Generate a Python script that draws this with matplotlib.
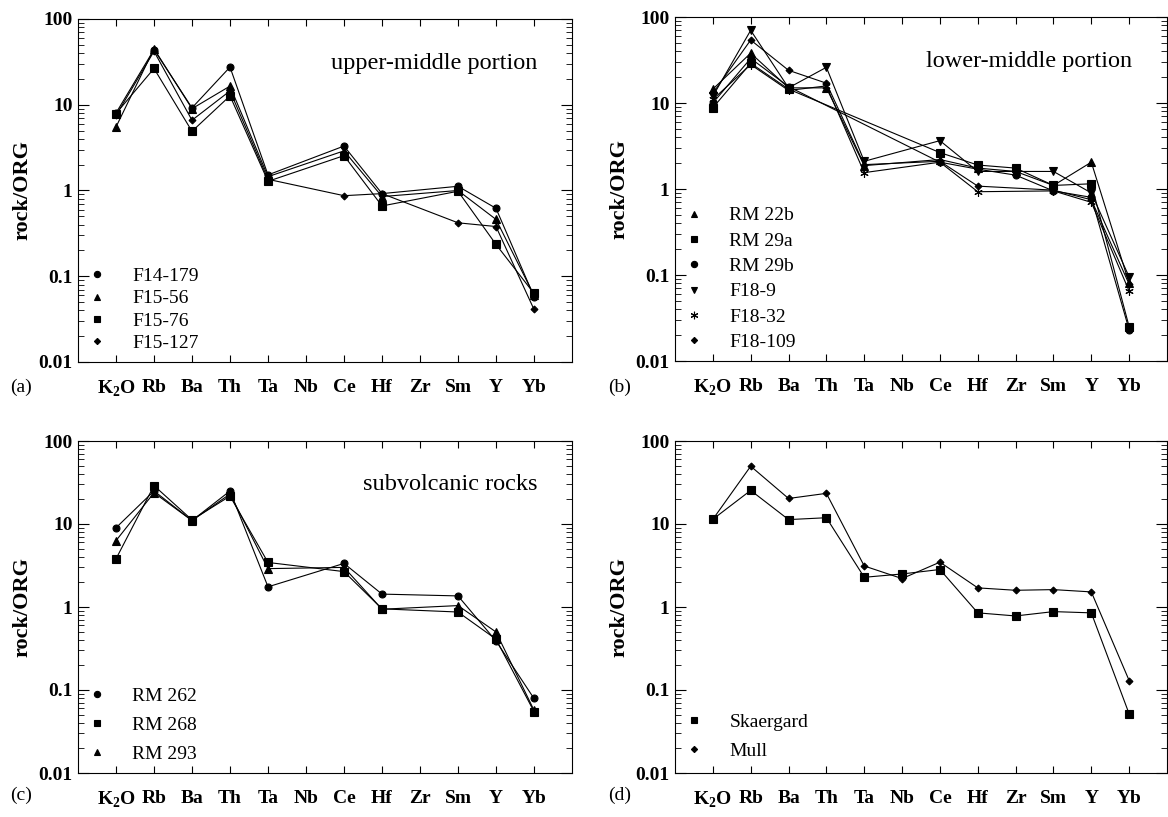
#=========================================================================================
# Diagramas rock/ORG (4 paneles)
#=========================================================================================
import matplotlib
matplotlib.use('Agg')
import matplotlib.pyplot as plt
from matplotlib.lines import Line2D
from matplotlib.ticker import LogLocator, FixedLocator, NullFormatter
import numpy as np

plt.rcParams['font.family'] = ['Liberation Serif', 'DejaVu Serif']
plt.rcParams['mathtext.fontset'] = 'custom'
plt.rcParams['mathtext.rm'] = 'Liberation Serif:bold'
plt.rcParams['mathtext.bf'] = 'Liberation Serif:bold'

nan = np.nan

#=========================================================================================
# Datos
#=========================================================================================
elementos = [r'K$_\mathbf{2}$O', 'Rb', 'Ba', 'Th', 'Ta', 'Nb', 'Ce', 'Hf', 'Zr', 'Sm', 'Y', 'Yb']

# (a) upper-middle portion
f14_179 = [8.0, 44, 9.2, 27.5, 1.52, nan, 3.3, 0.92, nan, 1.12, 0.62, 0.058]
f15_56 = [5.5, 45, 9.0, 16.5, 1.45, nan, 2.9, 0.85, nan, 1.0, 0.46, 0.060]
f15_76 = [7.9, 26.5, 4.9, 12.7, 1.28, nan, 2.55, 0.66, nan, 0.98, 0.235, 0.063]
f15_127 = [7.5, 42, 6.6, 14.5, 1.35, nan, 0.87, 0.92, nan, 0.42, 0.38, 0.041]

# (b) lower-middle portion
rm_22b = [14.5, 38, 15, 15, 1.87, nan, 2.2, 1.75, 1.6, 1.1, 2.05, 0.08]
rm_29a = [8.8, 29, 14.5, nan, nan, nan, 2.65, 1.9, 1.75, 1.1, 1.15, 0.025]
rm_29b = [10, 33, 15.5, nan, nan, nan, 2.05, 1.7, 1.45, 0.95, 0.8, 0.023]
f18_9 = [12, 70, 15, 26, 2.1, nan, 3.65, 1.6, nan, 1.6, 0.9, 0.095]
f18_32 = [11, 28, 14, 15.8, 1.55, nan, 2.05, 0.93, nan, 0.95, 0.7, 0.065]
f18_109 = [13, 54, 24, 17, 1.92, nan, 2.1, 1.08, nan, 0.97, 0.75, 0.078]

# (c) subvolcanic rocks
rm_262 = [9.0, 25, 11, 25, 1.75, nan, 3.35, 1.43, nan, 1.36, 0.39, 0.079]
rm_268 = [3.8, 29, 11.2, 21.7, 3.44, nan, 2.67, 0.95, nan, 0.87, 0.41, 0.055]
rm_293 = [6.3, 23.8, 11, 23, 2.9, nan, 3.0, 0.94, nan, 1.04, 0.5, 0.057]

# (d) Skaergard y Mull
skaergard = [11.4, 25.4, 11.3, 11.9, 2.28, 2.5, 2.83, 0.85, 0.78, 0.88, 0.85, 0.0515]
mull = [11.4, 49.7, 20.3, 23.4, 3.12, 2.2, 3.47, 1.70, 1.59, 1.62, 1.52, 0.13]

asterisco = (6, 2, 0)
estilos = {'o': 5, '^': 5.5, 's': 5.5, 'D': 3.5, 'v': 5.5, asterisco: 6}

#=========================================================================================
# Funcion para dibujar un panel
#=========================================================================================
W, H = 1168, 817


def caja(izq, arriba, der, abajo):
    return [izq / W, 1 - abajo / H, (der - izq) / W, (abajo - arriba) / H]


def panel(fig, rect, series, titulo, letra, pos_letra, leyenda_y, espacio):
    ax = fig.add_axes(caja(*rect))
    x = np.arange(len(elementos))
    handles = []
    for nombre, valores, marcador in series:
        v = np.array(valores, dtype=float)
        ok = ~np.isnan(v)
        ax.plot(x[ok], v[ok], color='black', lw=0.8, marker=marcador,
                ms=estilos[marcador], mec='black', mfc='black', mew=0.8)
        handles.append(Line2D([], [], ls='none', marker=marcador, color='black',
                              ms=estilos[marcador] * 0.9, mew=0.8, label=nombre))

    ax.set_yscale('log')
    ax.set_ylim(0.01, 100)
    ax.set_xlim(-1, 12)
    ax.set_xticks(x)
    ax.set_xticklabels(elementos, fontsize=14, fontweight='bold')
    ax.yaxis.set_major_locator(FixedLocator([0.01, 0.1, 1, 10, 100]))
    ax.set_yticklabels(['0.01', '0.1', '1', '10', '100'], fontsize=14, fontweight='bold')
    ax.yaxis.set_minor_locator(LogLocator(base=10, subs=np.arange(2, 10)))
    ax.yaxis.set_minor_formatter(NullFormatter())
    ax.tick_params(axis='x', direction='in', top=True, length=5, width=0.8, pad=12)
    ax.tick_params(axis='y', which='major', direction='in', right=True, length=8, width=0.8, pad=4)
    ax.tick_params(axis='y', which='minor', direction='in', right=True, length=4, width=0.6)
    for s in ax.spines.values():
        s.set_linewidth(0.8)
    ax.set_ylabel('rock/ORG', fontsize=16, fontweight='bold', labelpad=4)

    if titulo:
        ax.text(0.93, 0.87, titulo, transform=ax.transAxes, ha='right', va='center', fontsize=17.5)

    ax.legend(handles=handles, loc='lower left', bbox_to_anchor=(0.0, leyenda_y),
              frameon=False, fontsize=14, handlelength=1.0, handletextpad=1.3,
              labelspacing=espacio, borderaxespad=0.3, borderpad=0.2)

    fig.text(pos_letra[0] / W, 1 - pos_letra[1] / H, letra, ha='center', va='center', fontsize=14)
    return ax


#=========================================================================================
# Figura
#=========================================================================================
fig = plt.figure(figsize=(11.68, 8.17), dpi=100)

panel(fig, (78, 19, 572, 362),
      [('F14-179', f14_179, 'o'), ('F15-56', f15_56, '^'),
       ('F15-76', f15_76, 's'), ('F15-127', f15_127, 'D')],
      'upper-middle portion', '(a)', (21, 387), 0.0, 0.25)

panel(fig, (675, 17, 1167, 361),
      [('RM 22b', rm_22b, '^'), ('RM 29a', rm_29a, 's'), ('RM 29b', rm_29b, 'o'),
       ('F18-9', f18_9, 'v'), ('F18-32', f18_32, asterisco), ('F18-109', f18_109, 'D')],
      'lower-middle portion', '(b)', (620, 387), 0.0, 0.4)

panel(fig, (78, 441, 572, 773),
      [('RM 262', rm_262, 'o'), ('RM 268', rm_268, 's'), ('RM 293', rm_293, '^')],
      'subvolcanic rocks', '(c)', (21, 795), 0.0, 0.6)

panel(fig, (675, 441, 1167, 773),
      [('Skaergard', skaergard, 's'), ('Mull', mull, 'D')],
      None, '(d)', (620, 795), 0.01, 0.6)

plt.savefig('out.png', dpi=100)
